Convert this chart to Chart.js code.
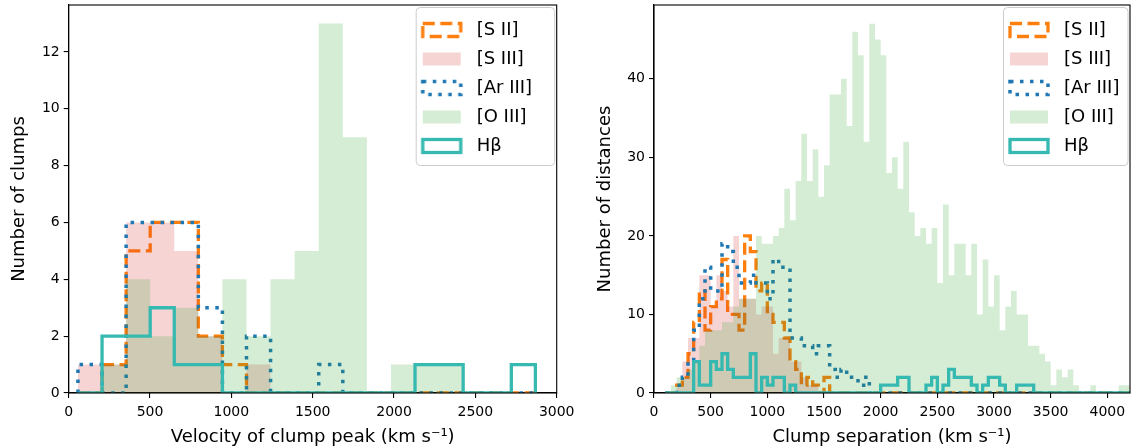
<!DOCTYPE html>
<html><head><meta charset="utf-8">
<script src="https://cdn.jsdelivr.net/npm/chart.js@4.4.1/dist/chart.umd.min.js"></script>
<style>
html,body{margin:0;padding:0;background:#fff;}
#wrap{position:relative;width:1132px;height:448px;overflow:hidden;}
#left{position:absolute;left:0;top:0;}
#right{position:absolute;left:580px;top:0;}
</style></head><body>
<div id="wrap">
<canvas id="left" width="580" height="448"></canvas>
<canvas id="right" width="552" height="448"></canvas>
</div>
<script>
// ---------- data ----------
const SERIES_LABELS = ['[S II]', '[S III]', '[Ar III]', '[O III]', 'Hβ'];

// Left panel: velocity of clump peak (km/s), bin edges and counts
const velEdges = [57, 205, 353, 501, 649, 797, 945, 1093, 1241, 1389, 1537, 1685, 1833, 1981, 2129, 2277, 2425, 2573, 2721, 2869];
const velSII   = [0, 1, 5, 6, 6, 2, 1, 0, 0, 0, 0, 0, 0, 0, 0, 0, 0, 0, 0];
const velSIII  = [1, 1, 6, 6, 5, 2, 0, 1, 0, 0, 0, 0, 0, 0, 0, 0, 0, 0, 0];
const velArIII = [1, 0, 6, 6, 6, 3, 0, 2, 0, 0, 1, 0, 0, 0, 0, 0, 0, 0, 0];
const velOIII  = [0, 1, 4, 2, 3, 2, 4, 2, 4, 5, 13, 9, 0, 1, 1, 1, 0, 0, 0];
const velHb    = [0, 2, 2, 3, 1, 1, 0, 0, 0, 0, 0, 0, 0, 0, 1, 1, 0, 0, 1];
const velXTicks = [0, 500, 1000, 1500, 2000, 2500, 3000];
const velYTicks = [0, 2, 4, 6, 8, 10, 12];

// Right panel: clump separation (km/s), bin edges and counts
const sepEdges = [100, 150, 200, 250, 300, 350, 400, 450, 500, 550, 600, 650, 700, 750, 800, 850, 900, 950, 1000, 1050,
  1100, 1150, 1200, 1250, 1300, 1350, 1400, 1450, 1500, 1550, 1600, 1650, 1700, 1750, 1800, 1850, 1900, 1950, 2000, 2050,
  2100, 2150, 2200, 2250, 2300, 2350, 2400, 2450, 2500, 2550, 2600, 2650, 2700, 2750, 2800, 2850, 2900, 2950, 3000, 3050,
  3100, 3150, 3200, 3250, 3300, 3350, 3400, 3450, 3500, 3550, 3600, 3650, 3700, 3750, 3800, 3850, 3900, 3950, 4000, 4050,
  4100, 4150, 4200];
const sepSII = [0, 0, 1, 2, 5, 9, 13, 8, 11, 12, 17, 10, 10, 8, 20, 18, 13, 14, 10, 9,
  9, 7, 4, 3, 1, 2, 1, 0, 2, 0, 0, 0, 0, 0, 0, 0, 0, 0, 0, 0,
  0, 0, 0, 0, 0, 0, 0, 0, 0, 0, 0, 0, 0, 0, 0, 0, 0, 0, 0, 0,
  0, 0, 0, 0, 0, 0, 0, 0, 0, 0, 0, 0, 0, 0, 0, 0, 0, 0, 0, 0, 0, 0];
const sepSIII = [0, 0, 1, 4, 7, 7, 15, 15, 11, 15, 13, 11, 20, 12, 12, 12, 10, 11, 11, 5,
  7, 7, 4, 4, 2, 1, 1, 0, 0, 0, 0, 0, 0, 0, 0, 0, 0, 0, 0, 0,
  0, 0, 0, 0, 0, 0, 0, 0, 0, 0, 0, 0, 0, 0, 0, 0, 0, 0, 0, 0,
  0, 0, 0, 0, 0, 0, 0, 0, 0, 0, 0, 0, 0, 0, 0, 0, 0, 0, 0, 0, 0, 0];
const sepArIII = [0, 0, 1, 2, 4, 8, 12, 16, 13, 13, 19, 18, 16, 14, 14, 15, 14, 14, 12, 17,
  16, 16, 7, 7, 6, 6, 5, 6, 6, 3, 2, 3, 2, 2, 1, 2, 0, 0, 0, 0,
  0, 0, 0, 0, 0, 0, 0, 0, 0, 0, 0, 0, 0, 0, 0, 0, 0, 0, 0, 0,
  0, 0, 0, 0, 0, 0, 0, 0, 0, 0, 0, 0, 0, 0, 0, 0, 0, 0, 0, 0, 0, 0];
const sepOIII = [0, 1, 2, 2, 3, 4, 6, 8, 8, 8, 9, 9, 11, 12, 12, 12, 20, 19, 19, 20,
  21, 26, 22, 27, 33, 27, 31, 25, 29, 38, 38, 40, 34, 46, 43, 32, 47, 45, 43, 28,
  30, 26, 32, 23, 20, 21, 19, 21, 14, 24, 15, 19, 19, 15, 19, 10, 17, 11, 15, 8,
  11, 13, 10, 10, 6, 6, 5, 4, 1, 3, 2, 3, 1, 0, 0, 1, 0, 0, 0, 0, 1, 1];
const sepHb = [0, 0, 0, 0, 0, 4, 1, 1, 4, 3, 5, 3, 2, 2, 2, 5, 0, 2, 1, 2,
  2, 0, 1, 0, 0, 0, 0, 0, 0, 0, 0, 0, 0, 0, 0, 0, 0, 0, 1, 1,
  1, 2, 2, 0, 0, 0, 1, 2, 0, 1, 3, 2, 2, 2, 1, 0, 1, 2, 2, 1,
  0, 0, 1, 1, 1, 0, 0, 0, 0, 0, 0, 0, 0, 0, 0, 0, 0, 0, 0, 0, 0, 0];
const sepXTicks = [0, 500, 1000, 1500, 2000, 2500, 3000, 3500, 4000];
const sepYTicks = [0, 10, 20, 30, 40];

// ---------- styles ----------
const ORANGE = '#ff7f0e';
const BLUE = '#1f77b4';
const TEAL = 'rgb(54,185,176)';
const PINK = 'rgba(214,39,40,0.2)';
const GREEN = 'rgba(44,160,44,0.2)';
const DASH = [12, 5.5];
const DOT = [3.5, 6.5];

Chart.defaults.font.family = "'DejaVu Sans', sans-serif";
Chart.defaults.color = '#000';

function histPoints(edges, vals) {
  const pts = [{x: edges[0], y: 0}];
  for (let i = 0; i < vals.length; i++) pts.push({x: edges[i], y: vals[i]});
  pts.push({x: edges[vals.length], y: 0});
  return pts;
}

function patch(kind) {
  const c = document.createElement('canvas');
  c.width = 44; c.height = 20;
  const g = c.getContext('2d');
  if (kind === 0) { g.strokeStyle = ORANGE; g.lineWidth = 3.3; g.setLineDash(DASH); g.strokeRect(3, 3.5, 38, 13); }
  if (kind === 1) { g.fillStyle = PINK; g.fillRect(3, 3.5, 38, 13); }
  if (kind === 2) { g.strokeStyle = BLUE; g.lineWidth = 3.5; g.setLineDash(DOT); g.strokeRect(3, 3.5, 38, 13); }
  if (kind === 3) { g.fillStyle = GREEN; g.fillRect(3, 3.5, 38, 13); }
  if (kind === 4) { g.strokeStyle = TEAL; g.lineWidth = 3.3; g.strokeRect(3, 3.5, 38, 13); }
  return c;
}
const PATCHES = [0, 1, 2, 3, 4].map(patch);

function makeFramePlugin(legendShift) {
  return {
    id: 'framePlugin',
    afterLayout(chart) {
      const lg = chart.legend, ca = chart.chartArea;
      if (!lg) return;
      lg.left = ca.right - 138 - legendShift; lg.right = ca.right;
      lg.top = ca.top + 5; lg.bottom = ca.top + 175;
      lg.width = lg.right - lg.left; lg.height = lg.bottom - lg.top;
    },
    beforeDraw(chart) {
      const ctx = chart.ctx, ca = chart.chartArea;
      const x0 = ca.right - 127 - legendShift, x1 = ca.right - 2.5, y0 = ca.top + 2, y1 = ca.top + 160;
      ctx.save();
      ctx.beginPath();
      ctx.roundRect(x0 + 0.5, y0 + 0.5, x1 - x0, y1 - y0, 4);
      ctx.fillStyle = 'rgba(255,255,255,0.8)';
      ctx.fill();
      ctx.strokeStyle = '#cccccc';
      ctx.lineWidth = 1;
      ctx.stroke();
      ctx.restore();
    },
    afterDatasetsDraw(chart) {
      const ctx = chart.ctx, a = chart.chartArea;
      ctx.save();
      ctx.strokeStyle = '#000';
      ctx.lineWidth = 1.1;
      ctx.strokeRect(a.left, a.top, a.right - a.left, a.bottom - a.top);
      ctx.restore();
    }
  };
}

function makeChart(id, edges, series, xTicks, yTicks, xMax, yMax, xTitle, yTitle, yAxisWidth, padRight, yTitlePad, legendShift) {
  const styles = [
    {borderColor: ORANGE, borderWidth: 3.3, borderDash: DASH, fill: false, backgroundColor: 'rgba(0,0,0,0)', order: 4},
    {borderColor: 'rgba(0,0,0,0)', borderWidth: 0.01, fill: 'origin', backgroundColor: PINK, order: 3},
    {borderColor: BLUE, borderWidth: 3.5, borderDash: DOT, fill: false, backgroundColor: 'rgba(0,0,0,0)', order: 2},
    {borderColor: 'rgba(0,0,0,0)', borderWidth: 0.01, fill: 'origin', backgroundColor: GREEN, order: 1},
    {borderColor: TEAL, borderWidth: 3.3, fill: false, backgroundColor: 'rgba(0,0,0,0)', order: 0}
  ];
  const datasets = series.map((vals, i) => Object.assign({
    label: SERIES_LABELS[i],
    data: histPoints(edges, vals),
    stepped: 'before',
    pointRadius: 0,
    pointHoverRadius: 0,
    tension: 0
  }, styles[i]));
  return new Chart(document.getElementById(id), {
    type: 'line',
    data: {datasets},
    plugins: [makeFramePlugin(legendShift)],
    options: {
      responsive: false,
      animation: false,
      events: [],
      layout: {padding: {left: 0, right: padRight, top: 5, bottom: 0}},
      plugins: {
        tooltip: {enabled: false},
        legend: {
          display: true,
          position: 'chartArea',
          align: 'start',
          labels: {
            usePointStyle: true,
            pointStyleWidth: 52,
            padding: 11,
            color: '#000',
            font: {size: 18},
            generateLabels: () => SERIES_LABELS.map((t, i) => ({
              text: t, pointStyle: PATCHES[i], fillStyle: 'rgba(0,0,0,0)', strokeStyle: 'rgba(0,0,0,0)',
              lineWidth: 0, hidden: false, datasetIndex: i, fontColor: '#000'
            }))
          }
        }
      },
      scales: {
        x: {
          type: 'linear', min: 0, max: xMax,
          afterBuildTicks: (s) => { s.ticks = xTicks.map(v => ({value: v})); },
          ticks: {color: '#000', font: {size: 14}, padding: 6, maxRotation: 0, autoSkip: false, includeBounds: false,
                  callback: (v) => String(v)},
          grid: {drawOnChartArea: false, drawTicks: true, tickLength: 5, color: '#000', lineWidth: 1.1},
          border: {display: true, color: '#000', width: 1.1},
          title: {display: true, text: xTitle, color: '#000', font: {size: 18}, padding: {top: 0, bottom: 0}},
          afterFit: (s) => { s.height = 55; s.paddingLeft = 0; s.paddingRight = 0; }
        },
        y: {
          type: 'linear', min: 0, max: yMax,
          afterBuildTicks: (s) => { s.ticks = yTicks.map(v => ({value: v})); },
          ticks: {color: '#000', font: {size: 14}, padding: 4, includeBounds: false, callback: (v) => String(v)},
          grid: {drawOnChartArea: false, drawTicks: true, tickLength: 5, color: '#000', lineWidth: 1.1},
          border: {display: true, color: '#000', width: 1.1},
          title: {display: true, text: yTitle, color: '#000', font: {size: 18}, padding: {top: yTitlePad, bottom: 0}},
          afterFit: (s) => { s.width = yAxisWidth; s.paddingTop = 0; s.paddingBottom = 0; }
        }
      }
    }
  });
}

makeChart('left', velEdges, [velSII, velSIII, velArIII, velOIII, velHb], velXTicks, velYTicks,
  3000, 13.65, 'Velocity of clump peak (km s⁻¹)', 'Number of clumps', 68.7, 23.3, 9, 14);
makeChart('right', sepEdges, [sepSII, sepSIII, sepArIII, sepOIII, sepHb], sepXTicks, sepYTicks,
  4200, 49.4, 'Clump separation (km s⁻¹)', 'Number of distances', 74, 2, 15, 0);
</script>
</body></html>
